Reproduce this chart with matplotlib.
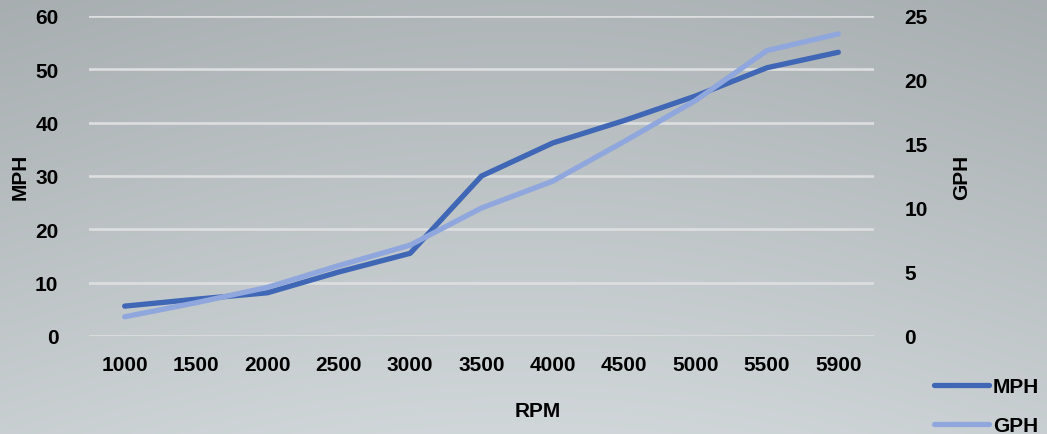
import numpy as np
import matplotlib
matplotlib.use("Agg")
import matplotlib.pyplot as plt

# chart data
rpm = ["1000", "1500", "2000", "2500", "3000", "3500", "4000", "4500", "5000", "5500", "5900"]
mph = [5.6, 6.9, 8.1, 12.0, 15.5, 30.0, 36.2, 40.4, 45.0, 50.3, 53.2]
gph = [1.5, 2.6, 3.8, 5.5, 7.1, 10.0, 12.1, 15.2, 18.4, 22.3, 23.6]

dark_blue = "#3F67B6"
light_blue = "#8FA7DD"
grid_col = "#DDDEDF"

plt.rcParams["font.family"] = ["Liberation Sans", "DejaVu Sans"]
plt.rcParams["font.weight"] = "bold"
fs = 15

fig = plt.figure(figsize=(10.47, 4.35), dpi=100)

# gray gradient background
bg = fig.add_axes([0, 0, 1, 1], zorder=-10)
yy, xx = np.mgrid[0:1:200j, 0:1:400j]
shade = 0.69 + 0.13 * yy + 0.03 * np.sin(np.pi * xx)
rgb = np.dstack([shade - 0.035, shade - 0.01, shade])
bg.imshow(np.clip(rgb, 0, 1), aspect="auto", extent=[0, 1, 0, 1], origin="upper")
bg.axis("off")

W, H = 1047, 435
ax = fig.add_axes([89 / W, 1 - 337 / H, (874 - 89) / W, (337 - 17) / H])
ax.patch.set_alpha(0)
x = np.arange(len(rpm))

ax.set_xlim(-0.5, len(rpm) - 0.5)
ax.set_ylim(0, 60)
ax.set_yticks(range(0, 61, 10))
for v in range(0, 61, 10):
    ax.axhline(v, color=grid_col, lw=1.9, zorder=0)

l1, = ax.plot(x, mph, color=dark_blue, lw=3.8, solid_capstyle="round",
              solid_joinstyle="round", label="MPH", zorder=3)

ax2 = ax.twinx()
ax2.set_ylim(0, 25)
ax2.set_yticks(range(0, 26, 5))
l2, = ax2.plot(x, gph, color=light_blue, lw=3.8, solid_capstyle="round",
               solid_joinstyle="round", label="GPH", zorder=2)

for a in (ax, ax2):
    for s in a.spines.values():
        s.set_visible(False)
    a.tick_params(length=0, labelsize=fs)
    for t in a.get_yticklabels() + a.get_xticklabels():
        t.set_fontweight("bold")

ax.set_xticks(x)
ax.set_xticklabels(rpm, fontweight="bold")
ax.tick_params(axis="x", pad=14)
ax.tick_params(axis="y", pad=22)
ax2.tick_params(axis="y", pad=22)

fig.text(538 / W, 1 - 412 / H, "RPM", ha="center", va="center", fontsize=fs, fontweight="bold")
fig.text(20 / W, 1 - 177 / H, "MPH", ha="center", va="center", rotation=90, fontsize=fs, fontweight="bold")
fig.text(962 / W, 1 - 177 / H, "GPH", ha="center", va="center", rotation=90, fontsize=fs, fontweight="bold")

leg = fig.legend(handles=[l1, l2], loc="upper left", bbox_to_anchor=(926 / W, 1 - 370 / H),
                 frameon=False, fontsize=fs, handlelength=2.6, handletextpad=0.2,
                 labelspacing=0.95, borderaxespad=0)
for t in leg.get_texts():
    t.set_fontweight("bold")

fig.savefig("out.png", dpi=100)
